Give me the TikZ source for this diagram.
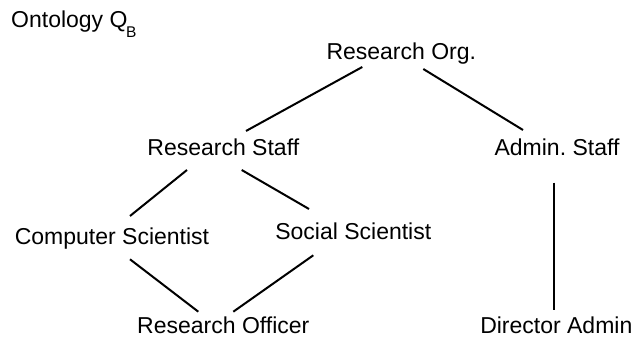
\documentclass[tikz,border=0pt]{standalone}
\usepackage{fontspec}
\setmainfont{Liberation Sans}
\frenchspacing
\begin{document}
\begin{tikzpicture}[x=1pt,y=1pt,
  lbl/.style={anchor=base,inner sep=0pt,font=\fontsize{23}{27}\selectfont},
  conn/.style={line width=2pt,black}]
\useasboundingbox (0,0) rectangle (634,339);
\node[lbl,anchor=base west] (title) at (11,311) {Ontology Q\kern-1.5pt\raisebox{-10pt}{\fontsize{15.5}{17}\selectfont B}};
\node[lbl] (ro)   at (401.3,279.7) {Research Org.};
\node[lbl] (rs)   at (223.3,183) {Research Staff};
\node[lbl] (as)   at (557,183) {Admin. Staff};
\node[lbl] (cs)   at (112,94) {Computer Scientist};
\node[lbl] (ss)   at (353.3,99) {Social Scientist};
\node[lbl] (roff) at (223.3,5.7) {Research Officer};
\node[lbl] (da)   at (556.3,5.7) {Director Admin};
\draw[conn] ([shift={(-39,-7.7)}]ro.base) -- ([shift={(22.7,25)}]rs.base);
\draw[conn] ([shift={(22,-9.7)}]ro.base) -- ([shift={(-34,26)}]as.base);
\draw[conn] ([shift={(-36.3,-14)}]rs.base) -- ([shift={(18,29)}]cs.base);
\draw[conn] ([shift={(18.4,-14)}]rs.base) -- ([shift={(-44.3,31)}]ss.base);
\draw[conn] ([shift={(18,-14.3)}]cs.base) -- ([shift={(-25,21.6)}]roff.base);
\draw[conn] ([shift={(-40,-15.3)}]ss.base) -- ([shift={(10,21.6)}]roff.base);
\draw[conn] ([shift={(-3,-26.7)}]as.base) -- ([shift={(-2.3,23.3)}]da.base);
\end{tikzpicture}
\end{document}
